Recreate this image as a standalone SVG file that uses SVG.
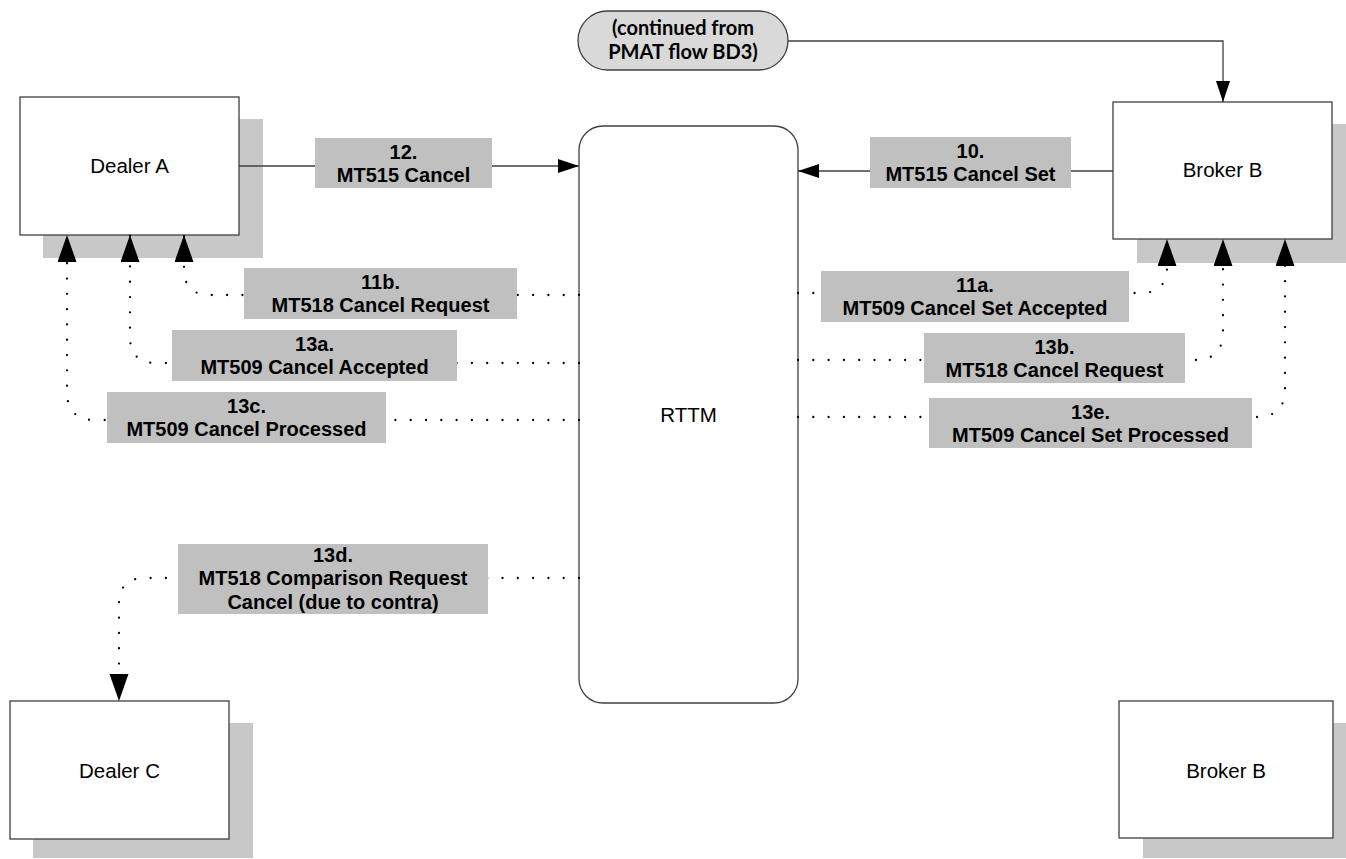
<svg xmlns="http://www.w3.org/2000/svg" width="1346" height="859" viewBox="0 0 1346 859">
<defs>
<style>
.node{fill:#ffffff;stroke:#404040;stroke-width:1.3}
.shadow{fill:#c8c8c8}
.ntext{font-family:"Liberation Sans",Arial,sans-serif;font-size:20.5px;fill:#000;text-anchor:middle}
.lbox{fill:#c0c0c0}
.ltext{font-family:"Liberation Sans",Arial,sans-serif;font-size:20px;font-weight:bold;fill:#000;text-anchor:middle}
.solid{fill:none;stroke:#404040;stroke-width:1.3}
.dot{fill:none;stroke:#000;stroke-width:2.3;stroke-dasharray:0 15.3;stroke-linecap:round}
.term{fill:#d9d9d9;stroke:#404040;stroke-width:1.3}
.ttext{font-family:Lato,"Open Sans",sans-serif;font-size:20px;font-weight:bold;fill:#000;text-anchor:middle}
</style>
<marker id="big" markerUnits="userSpaceOnUse" markerWidth="28" markerHeight="20" refX="27" refY="9.5" orient="auto">
<path d="M0,0 L27,9.5 L0,19 z" fill="#000"/>
</marker>
<marker id="small" markerUnits="userSpaceOnUse" markerWidth="22" markerHeight="15" refX="21" refY="7" orient="auto">
<path d="M0,0 L21,7 L0,14 z" fill="#000"/>
</marker>
</defs>
<rect width="1346" height="859" fill="#ffffff"/>

<g id="dealerA">
<rect class="shadow" x="43" y="119" width="220" height="139"/>
<rect class="node" x="20" y="97" width="219" height="138"/>
<text class="ntext" x="129.5" y="173">Dealer A</text>
</g>

<g id="brokerB-top">
<rect class="shadow" x="1137" y="124" width="220" height="139"/>
<rect class="node" x="1113" y="102" width="219" height="137"/>
<text class="ntext" x="1222.5" y="177">Broker B</text>
</g>

<g id="continued">
<rect class="term" x="578" y="11" width="210" height="59" rx="29.5" ry="29.5"/>
<text class="ttext" x="683" y="35">(continued from</text>
<text class="ttext" x="683" y="59">PMAT flow BD3)</text>
</g>

<g id="rttm">
<rect class="node" x="579" y="126" width="219" height="577" rx="24" ry="24"/>
<text class="ntext" x="688.5" y="422">RTTM</text>
</g>

<g id="dealerC">
<rect class="shadow" x="33" y="723" width="220" height="135"/>
<rect class="node" x="10" y="701" width="219" height="138"/>
<text class="ntext" x="119.5" y="778">Dealer C</text>
</g>

<g id="brokerB-bottom">
<rect class="shadow" x="1143" y="723" width="210" height="135"/>
<rect class="node" x="1119" y="701" width="214" height="137"/>
<text class="ntext" x="1226" y="778">Broker B</text>
</g>

<g id="connectors">
<path class="solid" d="M239 166 L579 166" marker-end="url(#small)"/>
<path class="solid" d="M1113 171 L798 171" marker-end="url(#small)"/>
<path class="solid" d="M788 41 L1223 41 L1223 102" marker-end="url(#small)"/>
<path class="dot" d="M579 295 L210 295 Q184 295 184 269 L184 235" marker-end="url(#big)"/>
<path class="dot" d="M579 363 L156 363 Q130 363 130 337 L130 235" marker-end="url(#big)"/>
<path class="dot" d="M579 420 L95 420 Q67 420 67 392 L67 235" marker-end="url(#big)"/>
<path class="dot" d="M579 578 L145 578 Q119 578 119 604 L119 701" marker-end="url(#big)"/>
<path class="dot" d="M798 293 L1141 293 Q1167 293 1167 267 L1167 239" marker-end="url(#big)"/>
<path class="dot" d="M798 360 L1195 360 Q1223 360 1223 332 L1223 239" marker-end="url(#big)"/>
<path class="dot" d="M798 417 L1257 417 Q1285 417 1285 389 L1285 239" marker-end="url(#big)"/>
</g>

<g id="label-12">
<rect class="lbox" x="315" y="138" width="177" height="50"/>
<text class="ltext" x="403.5" y="159">12.</text>
<text class="ltext" x="403.5" y="182">MT515 Cancel</text>
</g>
<g id="label-10">
<rect class="lbox" x="870" y="137" width="201" height="51"/>
<text class="ltext" x="970.5" y="158">10.</text>
<text class="ltext" x="970.5" y="181">MT515 Cancel Set</text>
</g>
<g id="label-11b">
<rect class="lbox" x="244" y="268" width="273" height="51"/>
<text class="ltext" x="380.5" y="289">11b.</text>
<text class="ltext" x="380.5" y="312">MT518 Cancel Request</text>
</g>
<g id="label-11a">
<rect class="lbox" x="821" y="271" width="308" height="51"/>
<text class="ltext" x="975" y="292">11a.</text>
<text class="ltext" x="975" y="315">MT509 Cancel Set Accepted</text>
</g>
<g id="label-13a">
<rect class="lbox" x="172" y="330" width="285" height="51"/>
<text class="ltext" x="314.5" y="351">13a.</text>
<text class="ltext" x="314.5" y="374">MT509 Cancel Accepted</text>
</g>
<g id="label-13b">
<rect class="lbox" x="924" y="333" width="261" height="50"/>
<text class="ltext" x="1054.5" y="354">13b.</text>
<text class="ltext" x="1054.5" y="377">MT518 Cancel Request</text>
</g>
<g id="label-13c">
<rect class="lbox" x="107" y="392" width="279" height="51"/>
<text class="ltext" x="246.5" y="413">13c.</text>
<text class="ltext" x="246.5" y="436">MT509 Cancel Processed</text>
</g>
<g id="label-13e">
<rect class="lbox" x="929" y="398" width="323" height="50"/>
<text class="ltext" x="1090.5" y="419">13e.</text>
<text class="ltext" x="1090.5" y="442">MT509 Cancel Set Processed</text>
</g>
<g id="label-13d">
<rect class="lbox" x="178" y="544" width="310" height="70"/>
<text class="ltext" x="333" y="562">13d.</text>
<text class="ltext" x="333" y="585">MT518 Comparison Request</text>
<text class="ltext" x="333" y="609">Cancel (due to contra)</text>
</g>
</svg>
